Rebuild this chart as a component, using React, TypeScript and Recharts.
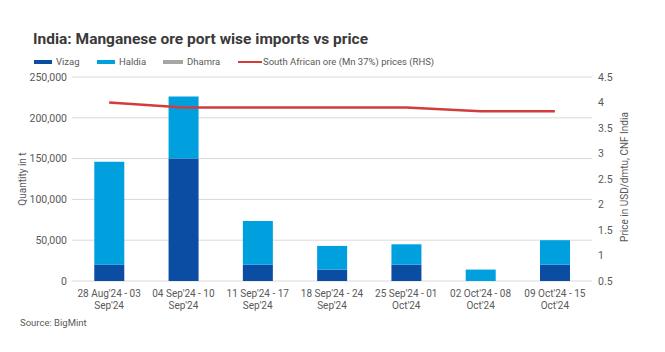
import React from 'react';
import {
  ComposedChart, Bar, Line, XAxis, YAxis, CartesianGrid,
} from 'recharts';

// ── Data ──────────────────────────────────────────────────────────────────────
const weeks = [
  "28 Aug'24 - 03 Sep'24",
  "04 Sep'24 - 10 Sep'24",
  "11 Sep'24 - 17 Sep'24",
  "18 Sep'24 - 24 Sep'24",
  "25 Sep'24 - 01 Oct'24",
  "02 Oct'24 - 08 Oct'24",
  "09 Oct'24 - 15 Oct'24",
];
const vizag = [20000, 150000, 20000, 14000, 20000, 0, 20000];
const haldia = [126000, 76000, 53500, 29000, 25000, 14000, 30000];
const dhamra = [0, 0, 0, 0, 0, 0, 0];
const saPrice = [4.0, 3.9, 3.9, 3.9, 3.9, 3.83, 3.83];

const leftTicks = [0, 50000, 100000, 150000, 200000, 250000];
const rightTicks = [0.5, 1, 1.5, 2, 2.5, 3, 3.5, 4, 4.5];

const COLORS = {
  vizag: '#0B4DA2',
  haldia: '#00A0DF',
  dhamra: '#A6A6A6',
  price: '#D23C3C',
  grid: '#D9D9D9',
  text: '#595959',
  title: '#3A3A3A',
};

const FONT = 'Roboto, "Noto Sans", sans-serif';

const rows = weeks.map((w, i) => ({
  week: w,
  vizag: vizag[i],
  haldia: haldia[i],
  dhamra: dhamra[i],
  price: saPrice[i],
}));

const fmtThousands = (v: number) => v.toLocaleString('en-US');

const WeekTick = (props: any) => {
  const { x, y, payload } = props;
  const s: string = payload.value;
  const cut = s.lastIndexOf(' ');
  const lines = [s.slice(0, cut), s.slice(cut + 1)];
  return (
    <text x={x} y={y} textAnchor="middle" fill={COLORS.text} fontSize={10} fontFamily={FONT}>
      {lines.map((l, i) => (
        <tspan key={i} x={x} dy={i === 0 ? 8 : 12}>{l}</tspan>
      ))}
    </text>
  );
};

const legendItems = [
  { label: 'Vizag', color: COLORS.vizag, left: 34, w: 18, h: 4 },
  { label: 'Haldia', color: COLORS.haldia, left: 97, w: 18, h: 4 },
  { label: 'Dhamra', color: COLORS.dhamra, left: 163, w: 20, h: 4 },
  { label: 'South African ore (Mn 37%) prices (RHS)', color: COLORS.price, left: 238, w: 24, h: 2 },
];

export default function App() {
  return (
    <div style={{ position: 'absolute', left: 0, top: 0, width: 665, height: 352, background: '#fff', fontFamily: FONT, overflow: 'hidden' }}>
      <div style={{ position: 'absolute', left: 33, top: 30, fontSize: 15.5, fontWeight: 700, color: COLORS.title, whiteSpace: 'nowrap' }}>
        India: Manganese ore port wise imports vs price
      </div>

      {legendItems.map(it => (
        <div key={it.label} style={{ position: 'absolute', left: it.left, top: 55, height: 13, display: 'flex', alignItems: 'center', whiteSpace: 'nowrap' }}>
          <span style={{ display: 'inline-block', width: it.w, height: it.h, background: it.color, marginRight: it.h === 2 ? 1 : 4 }} />
          <span style={{ fontSize: 9.5, color: COLORS.text }}>{it.label}</span>
        </div>
      ))}

      <div style={{ position: 'absolute', left: 22, top: 179, transform: 'translate(-50%, -50%) rotate(-90deg)', fontSize: 10, color: COLORS.text, whiteSpace: 'nowrap' }}>
        Quantity in t
      </div>
      <div style={{ position: 'absolute', left: 624, top: 177, transform: 'translate(-50%, -50%) rotate(-90deg)', fontSize: 10, color: COLORS.text, whiteSpace: 'nowrap' }}>
        Price in USD/dmtu, CNF India
      </div>

      <div style={{ position: 'absolute', left: 20, top: 317, fontSize: 9.5, color: COLORS.text, whiteSpace: 'nowrap' }}>
        Source: BigMint
      </div>

      <div style={{ position: 'absolute', left: 0, top: 0 }}>
        <ComposedChart
          width={665}
          height={352}
          data={rows}
          margin={{ top: 77, right: 0, bottom: 41, left: 0 }}
          barCategoryGap="30%"
        >
          <CartesianGrid yAxisId="left" vertical={false} stroke={COLORS.grid} />
          <XAxis
            dataKey="week"
            tick={<WeekTick />}
            axisLine={false}
            tickLine={false}
            interval={0}
            height={30}
          />
          <YAxis
            yAxisId="left"
            domain={[0, 250000]}
            ticks={leftTicks}
            tickFormatter={fmtThousands}
            tick={{ fill: COLORS.text, fontSize: 10.5, fontFamily: FONT }}
            axisLine={false}
            tickLine={false}
            tickSize={0}
            tickMargin={5}
            width={72}
            interval={0}
          />
          <YAxis
            yAxisId="right"
            orientation="right"
            domain={[0.5, 4.5]}
            ticks={rightTicks}
            tick={{ fill: COLORS.text, fontSize: 10.5, fontFamily: FONT, textAnchor: 'start' }}
            axisLine={false}
            tickLine={false}
            tickSize={0}
            tickMargin={6}
            width={73}
            interval={0}
          />
          <Bar yAxisId="left" dataKey="vizag" stackId="a" fill={COLORS.vizag} isAnimationActive={false} />
          <Bar yAxisId="left" dataKey="haldia" stackId="a" fill={COLORS.haldia} isAnimationActive={false} />
          <Bar yAxisId="left" dataKey="dhamra" stackId="a" fill={COLORS.dhamra} isAnimationActive={false} />
          <Line
            yAxisId="right"
            type="linear"
            dataKey="price"
            stroke={COLORS.price}
            strokeWidth={2.5}
            dot={false}
            isAnimationActive={false}
          />
        </ComposedChart>
      </div>
    </div>
  );
}
